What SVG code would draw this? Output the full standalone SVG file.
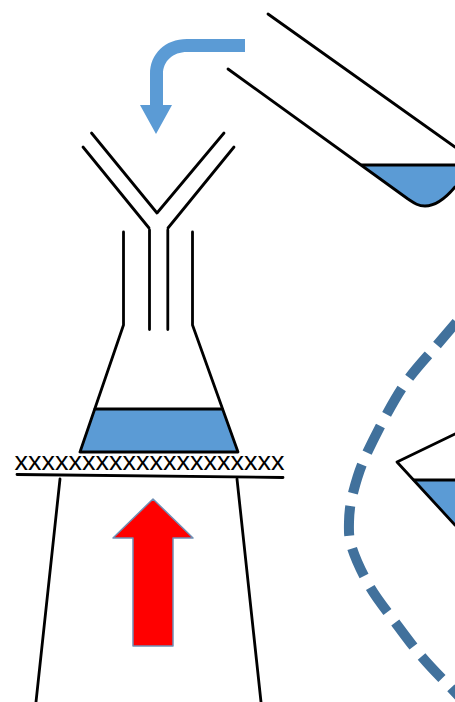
<svg xmlns="http://www.w3.org/2000/svg" width="455" height="702" viewBox="0 0 455 702">
<style>
.l{fill:none;stroke:#000;stroke-width:2.800;stroke-linecap:round;stroke-linejoin:round}
.w{fill:#5b9bd5;stroke:none}
.t{font-family:"Liberation Sans",Arial,sans-serif;font-size:25.500px;fill:#000}
</style>
<rect width="455" height="702" fill="#fff"/>
<g id="tube">
<path class="w" d="M362 165H455V187C445 199 435 206 425 206C418 206 414 203 408 199Z"/>
<path class="l" d="M268 14L455 147"/>
<path class="l" d="M228 69L408 199C414 203 418 206 425 206C435 206 445 199 455 187"/>
<path class="l" d="M362 165H455"/>
</g>
<g id="pour-arrow">
<path fill="#5b9bd5" d="M245 39H187C165 39 150 54 150 74V105H140L156 134L172 105H163V74C163 61 173 52 187 52H245Z"/>
</g>
<g id="flask">
<path class="w" d="M95 409H222L238 452H80Z"/>
<path class="l" d="M123.500 232V325L80 452H238L192.500 325V232"/>
<path class="l" d="M95 409H222"/>
<path class="l" d="M149.500 230V329.500M167.800 230V329.500"/>
</g>
<g id="funnel">
<path class="l" d="M83 147L149 228M91.500 133L157 213L224 133M234 147L168 228"/>
</g>
<g id="stand">
<text class="t" x="14.500" y="469.500" textLength="270" lengthAdjust="spacingAndGlyphs">xxxxxxxxxxxxxxxxxxxx</text>
<path class="l" d="M17 474.500L283 477.500"/>
<path class="l" d="M60 479L36 702M237 479L261 702"/>
</g>
<g id="heat-arrow">
<path fill="#f00" stroke="#6f8fb5" stroke-width="1.500" stroke-linejoin="round" d="M153 499L193 538H173V646H133V538H113Z"/>
</g>
<g id="inset">
<path fill="none" stroke="#41719c" stroke-width="10" stroke-dasharray="30 13" stroke-dashoffset="-5.500" d="M460 318L437 345C427.300 356.700 413.700 370 402 388C390.300 406 375.200 435.500 367 453C358.800 470.500 356 481.500 353 493C350 504.500 349.200 512.800 349 522C348.800 531.200 348.500 537.200 352 548C355.500 558.800 362.800 574.700 370 587C377.200 599.300 386.300 610.300 395 622C403.700 633.700 412.800 646.200 422 657C431.200 667.800 442 678.500 450 687L470 708"/>
<path class="w" d="M414 480H455V525Z"/>
<path class="l" d="M455 434L397 462L455 525"/>
<path class="l" d="M414 480H455"/>
</g>
</svg>
